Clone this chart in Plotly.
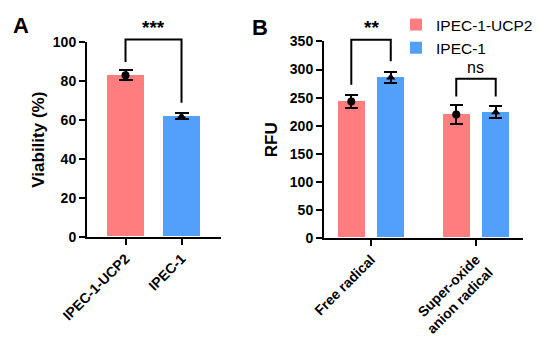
import numpy as np
import plotly.graph_objects as go

# ---------------- data ----------------
groups_A = ["IPEC-1-UCP2", "IPEC-1"]
viability = [83.2, 62.0]
viability_err = [2.5, 1.5]

cats_B = ["Free radical", "Super-oxide<br>anion radical"]
series_B = ["IPEC-1-UCP2", "IPEC-1"]
rfu_ucp2 = [243, 220]
rfu_ucp2_err = [12, 17]
rfu_ipec = [286, 224]
rfu_ipec_err = [9.5, 10.5]

sig_A = ["***"]
sig_B = ["**", "ns"]

# ---------------- style ----------------
RED = "#FF7D7E"
BLUE = "#52A0F9"
FONT = "Liberation Sans, Arial, sans-serif"
# page body has an 8px margin; size the figure so it fills the 550x341 window
OFF = 8
W, H = 550 - OFF, 341 - OFF


def px(x):
    return (x - OFF) / W


def py(y):
    return 1 - (y - OFF) / H


# panel geometry (paper fractions, from window pixels)
xA = [px(87), px(221)]
yA = [py(235), py(37)]
xB = [px(324), px(523)]
yB = [py(236), py(36)]
TOP = 0.995

A_range = [0, 100]
B_range = [0, 350]
A_xrange = [-0.6875, 1.705]
B_xrange = [-0.448, 1.448]
off = 0.188          # half distance between grouped bars
bwA = 0.66
bwB = 0.257


def ext_range(rng, dom):
    span = rng[1] - rng[0]
    return [rng[0], rng[0] + span * (TOP - dom[0]) / (dom[1] - dom[0])]


fig = go.Figure()

# ----- panel A -----
xa = np.arange(len(groups_A))
fig.add_trace(go.Bar(
    x=xa, y=viability, width=bwA, marker=dict(color=[RED, BLUE], line=dict(width=0)),
    error_y=dict(type="data", array=viability_err, thickness=2, width=7, color="black"),
    xaxis="x", yaxis="y", showlegend=False))
fig.add_trace(go.Scatter(
    x=xa, y=viability, mode="markers",
    marker=dict(symbol=["circle", "triangle-up"], size=8, color="black"),
    xaxis="x", yaxis="y", showlegend=False))

# ----- panel B -----
xb = np.arange(len(cats_B))
for name, vals, errs, col, sh, sym in [
        (series_B[0], rfu_ucp2, rfu_ucp2_err, RED, -off, "circle"),
        (series_B[1], rfu_ipec, rfu_ipec_err, BLUE, off, "triangle-up")]:
    fig.add_trace(go.Bar(
        x=xb + sh, y=vals, width=bwB, name=name, marker=dict(color=col, line=dict(width=0)),
        error_y=dict(type="data", array=errs, thickness=2, width=6.5, color="black"),
        xaxis="x2", yaxis="y2", showlegend=True))
    fig.add_trace(go.Scatter(
        x=xb + sh, y=vals, mode="markers",
        marker=dict(symbol=sym, size=8, color="black"),
        xaxis="x2", yaxis="y2", showlegend=False))

# ----- significance brackets (on extended, hidden y axes) -----
bracket_A = dict(x=[xa[0], xa[0], xa[1], xa[1]], y=[90, 101.5, 101.5, 69])
fig.add_trace(go.Scatter(x=bracket_A["x"], y=bracket_A["y"], mode="lines",
                         line=dict(color="black", width=2), xaxis="x", yaxis="y3",
                         showlegend=False, hoverinfo="skip"))
brackets_B = [
    dict(x=[xb[0] - off, xb[0] - off, xb[0] + off, xb[0] + off], y=[273, 353, 353, 315]),
    dict(x=[xb[1] - off, xb[1] - off, xb[1] + off, xb[1] + off], y=[252, 283.5, 283.5, 252]),
]
for br in brackets_B:
    fig.add_trace(go.Scatter(x=br["x"], y=br["y"], mode="lines",
                             line=dict(color="black", width=2), xaxis="x2", yaxis="y4",
                             showlegend=False, hoverinfo="skip"))

annots = [
    dict(x=0.5, y=101.5, xref="x", yref="y3", text="<b>" + sig_A[0] + "</b>",
         showarrow=False, yanchor="bottom", yshift=0, font=dict(size=19, family=FONT, color="black")),
    dict(x=xb[0], y=353, xref="x2", yref="y4", text="<b>" + sig_B[0] + "</b>",
         showarrow=False, yanchor="bottom", yshift=0, font=dict(size=19, family=FONT, color="black")),
    dict(x=xb[1], y=283.5, xref="x2", yref="y4", text=sig_B[1],
         showarrow=False, yanchor="bottom", yshift=1, font=dict(size=16, family=FONT, color="black")),
    dict(x=px(20.5), y=py(20), xref="paper", yref="paper", text="<b>A</b>",
         showarrow=False, xanchor="center", yanchor="middle", font=dict(size=22, family=FONT, color="black")),
    dict(x=px(260), y=py(22), xref="paper", yref="paper", text="<b>B</b>",
         showarrow=False, xanchor="center", yanchor="middle", font=dict(size=22, family=FONT, color="black")),
]

tickfont = dict(size=14, family=FONT, color="black", weight="bold")
titlefont = dict(size=17, family=FONT, color="black", weight="bold")
axis_common = dict(showline=True, linecolor="black", linewidth=2, ticks="outside",
                   tickwidth=2, tickcolor="black", showgrid=False, zeroline=False,
                   automargin=False, tickfont=tickfont)

fig.update_layout(
    width=W, height=H, margin=dict(l=0, r=0, t=0, b=0),
    plot_bgcolor="rgba(0,0,0,0)", paper_bgcolor="white",
    font=dict(family=FONT, color="black"),
    xaxis=dict(domain=xA, range=A_xrange, tickvals=list(xa), ticktext=groups_A,
               tickangle=-45, ticklen=6, anchor="y", **axis_common),
    yaxis=dict(domain=yA, range=A_range, tickvals=[0, 20, 40, 60, 80, 100], ticklen=6,
               anchor="x", title=dict(text="Viability (%)", font=titlefont, standoff=4),
               **axis_common),
    xaxis2=dict(domain=xB, range=B_xrange, tickvals=list(xb), ticktext=cats_B,
                tickangle=-45, ticklen=6, anchor="y2", **axis_common),
    yaxis2=dict(domain=yB, range=B_range, tickvals=list(range(0, 351, 50)), ticklen=6,
                anchor="x2", title=dict(text="RFU", font=titlefont, standoff=8),
                **axis_common),
    yaxis3=dict(domain=[yA[0], TOP], range=ext_range(A_range, yA), visible=False,
                anchor="x", fixedrange=True),
    yaxis4=dict(domain=[yB[0], TOP], range=ext_range(B_range, yB), visible=False,
                anchor="x2", fixedrange=True),
    legend=dict(x=px(396), y=py(1.5), xanchor="left", yanchor="top",
                font=dict(size=15.5, family=FONT, color="black"), bgcolor="rgba(0,0,0,0)",
                tracegroupgap=0, itemwidth=30),
    annotations=annots,
    bargap=0,
)

fig.write_html("out.html")
